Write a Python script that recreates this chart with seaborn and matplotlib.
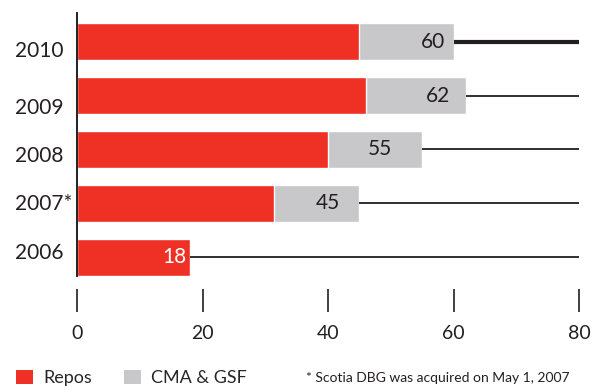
import matplotlib
matplotlib.use("Agg")
import matplotlib.pyplot as plt
import matplotlib.transforms as mtransforms
from matplotlib.patches import Patch
import seaborn as sns
import pandas as pd

# Data
years = ["2010", "2009", "2008", "2007*", "2006"]
repos = [45, 46, 40, 31.4, 18]
cma_gsf = [15, 16, 15, 13.6, 0]
x_ticks = [0, 20, 40, 60, 80]
footnote = "* Scotia DBG was acquired on May 1, 2007"

RED = "#EE3124"
GREY = "#C8C8CA"
INK = "#231F20"

sns.set_theme(style="white")
plt.rcParams["font.family"] = ["Lato", "DejaVu Sans"]

df = pd.DataFrame({"year": years, "repos": repos, "cma_gsf": cma_gsf})
df["total"] = df["repos"] + df["cma_gsf"]

fig = plt.figure(figsize=(5.93, 3.86), dpi=100)
ax = fig.add_axes([77 / 593, 1 - 276 / 386, (579 - 77) / 593, (276 - 13) / 386])

# stacked bars: full total in grey, repos portion in red over it
sns.barplot(data=df, x="total", y="year", orient="h", color=GREY,
            width=0.685, saturation=1, ax=ax)
sns.barplot(data=df, x="repos", y="year", orient="h", color=RED,
            width=0.685, saturation=1, ax=ax)

# leader lines from each bar end to the axis maximum
line_widths = [3.0, 1.3, 1.3, 1.3, 1.3]
for i, (tot, lw) in enumerate(zip(df["total"], line_widths)):
    ax.hlines(i, tot, x_ticks[-1], color=INK, linewidth=lw, zorder=1)

# value labels inside the bar ends
label_pad = [1.4, 2.6, 4.8, 3.1, 0.6]
for i, (tot, grey_part, pad) in enumerate(zip(df["total"], df["cma_gsf"], label_pad)):
    ax.text(tot - pad, i, f"{tot:.0f}", ha="right", va="center",
            fontsize=15, color="white" if grey_part == 0 else INK, zorder=5)

ax.set_xlim(x_ticks[0], x_ticks[-1])
ax.set_ylim(4.343, -0.528)
ax.set_xlabel("")
ax.set_ylabel("")

for side in ["top", "right", "bottom"]:
    ax.spines[side].set_visible(False)
ax.spines["left"].set_color(INK)
ax.spines["left"].set_linewidth(1.4)

ax.set_xticks(x_ticks)
ax.set_xticklabels([str(t) for t in x_ticks])
ax.spines["bottom"].set_position(("outward", 9.4))
ax.tick_params(axis="x", bottom=True, direction="out", length=16.6, width=1.2,
               color=INK, pad=9, labelsize=14, labelcolor=INK)

ax.tick_params(axis="y", left=False, length=0, pad=44.6, labelsize=15, labelcolor=INK)
year_shift = [7.5, 10.5, 4.2, -1.5, -6.5]
for lab, dy in zip(ax.get_yticklabels(), year_shift):
    lab.set_horizontalalignment("left")
    lab.set_transform(lab.get_transform() +
                      mtransforms.ScaledTranslation(0, -dy / 100, fig.dpi_scale_trans))

handles = [Patch(facecolor=RED, edgecolor="none"), Patch(facecolor=GREY, edgecolor="none")]
fig.legend(handles, ["Repos", "CMA & GSF"], loc="center left",
           bbox_to_anchor=(16 / 593, 1 - 378 / 386), ncol=2, frameon=False,
           fontsize=13, handlelength=0.95, handleheight=0.85, handletextpad=0.55,
           columnspacing=1.8, borderaxespad=0, borderpad=0)

fig.text(306 / 593, 1 - 378 / 386, footnote, ha="left", va="center",
         fontsize=10, color=INK)

fig.savefig("out.png", dpi=100)
